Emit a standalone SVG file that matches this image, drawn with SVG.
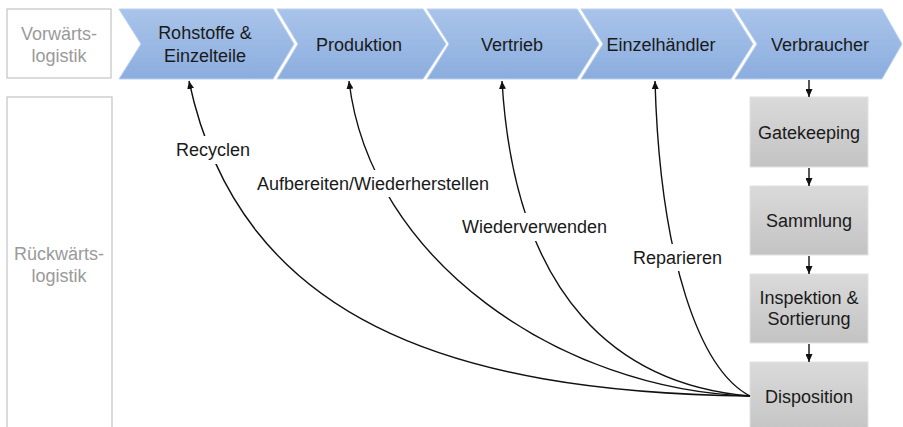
<svg xmlns="http://www.w3.org/2000/svg" width="903" height="427" viewBox="0 0 903 427">
<defs>
<linearGradient id="blue" x1="0" y1="0" x2="0" y2="1">
<stop offset="0" stop-color="#a9c4ea"/>
<stop offset="1" stop-color="#8badde"/>
</linearGradient>
<linearGradient id="gray" x1="0" y1="0" x2="0" y2="1">
<stop offset="0" stop-color="#dadada"/>
<stop offset="1" stop-color="#c3c3c3"/>
</linearGradient>
<marker id="ah" markerUnits="userSpaceOnUse" markerWidth="8" markerHeight="7" refX="8" refY="3.5" orient="auto">
<path d="M0,0 L8,3.5 L0,7 z" fill="#111"/>
</marker>
</defs>
<style>
text{font-family:"Liberation Sans",Arial,sans-serif;font-size:18px;text-anchor:middle;fill:#1a1a1a}
.side{fill:#9a9a9a}
.sidebox{fill:#fff;stroke:#c4c4c4;stroke-width:1.2}
.chev{fill:url(#blue);stroke:#b9cff0;stroke-width:1}
.gbox{fill:url(#gray);stroke:#e2e2e2;stroke-width:1}
.con{fill:none;stroke:#111;stroke-width:1.4;marker-end:url(#ah)}
.bg{fill:#fff}
.lbl{text-anchor:start}
</style>
<rect width="903" height="427" fill="#fff"/>

<g id="vorwaerts">
<rect class="sidebox" x="7" y="9" width="104" height="69"/>
<text class="side" x="59" y="40">Vorwärts-</text>
<text class="side" x="59" y="62">logistik</text>
</g>
<g id="rueckwaerts">
<rect class="sidebox" x="7" y="97" width="105" height="340"/>
<text class="side" x="59" y="260">Rückwärts-</text>
<text class="side" x="59" y="282">logistik</text>
</g>

<g id="rohstoffe">
<path class="chev" d="M119,9 L273,9 L294,44 L273,79 L119,79 L141,44 z"/>
<text x="205" y="39">Rohstoffe &amp;</text>
<text x="205" y="62">Einzelteile</text>
</g>
<g id="produktion">
<path class="chev" d="M277,9 L423,9 L446,44 L423,79 L277,79 L298,44 z"/>
<text x="359" y="51">Produktion</text>
</g>
<g id="vertrieb">
<path class="chev" d="M427,9 L577,9 L599,44 L577,79 L427,79 L449,44 z"/>
<text x="512" y="51">Vertrieb</text>
</g>
<g id="einzelhaendler">
<path class="chev" d="M581,9 L731,9 L753,44 L731,79 L581,79 L603,44 z"/>
<text x="661" y="51">Einzelhändler</text>
</g>
<g id="verbraucher">
<path class="chev" d="M735,9 L882,9 L902,44 L882,79 L735,79 L757,44 z"/>
<text x="820" y="51">Verbraucher</text>
</g>

<g id="gatekeeping">
<rect class="gbox" x="750" y="97" width="118" height="70"/>
<text x="809" y="139">Gatekeeping</text>
</g>
<g id="sammlung">
<rect class="gbox" x="750" y="186" width="118" height="69"/>
<text x="809" y="227">Sammlung</text>
</g>
<g id="inspektion">
<rect class="gbox" x="750" y="274" width="118" height="69"/>
<text x="809" y="304">Inspektion &amp;</text>
<text x="809" y="325">Sortierung</text>
</g>
<g id="disposition">
<rect class="gbox" x="750" y="362" width="118" height="75"/>
<text x="809" y="403">Disposition</text>
</g>

<g id="connectors">
<path class="con" d="M809,80 L809,97"/>
<path class="con" d="M809,168 L809,186"/>
<path class="con" d="M809,256 L809,274"/>
<path class="con" d="M809,344 L809,362"/>
<path class="con" d="M750,396 C450,392 240,320 189,81"/>
<path class="con" d="M750,396 C560,390 370,260 349,81"/>
<path class="con" d="M750,396 C620,385 515,300 502,81"/>
<path class="con" d="M750,396 C700,370 660,260 655,81"/>
</g>

<g id="labels">
<rect class="bg" x="170" y="136" width="88" height="28"/>
<text class="lbl" x="176" y="156">Recyclen</text>
<rect class="bg" x="251" y="170" width="245" height="27"/>
<text class="lbl" x="257" y="190">Aufbereiten/Wiederherstellen</text>
<rect class="bg" x="456" y="213" width="156" height="28"/>
<text class="lbl" x="462" y="233">Wiederverwenden</text>
<rect class="bg" x="627" y="244" width="99" height="27"/>
<text class="lbl" x="633" y="264">Reparieren</text>
</g>
</svg>
